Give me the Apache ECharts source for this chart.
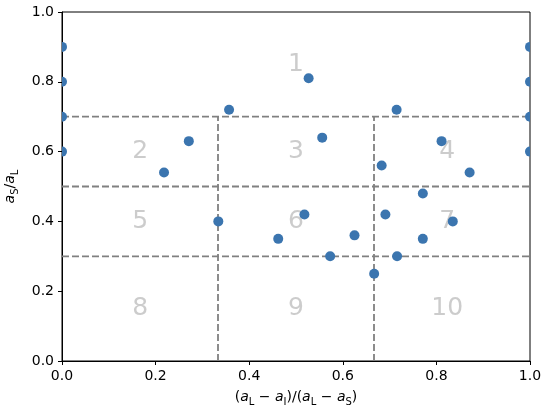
<!DOCTYPE html>
<html>
<head>
<meta charset="utf-8">
<script src="https://cdn.jsdelivr.net/npm/echarts@6/dist/echarts.min.js"></script>
<style>
  html, body { margin: 0; padding: 0; background: #fff; }
  #chart { width: 550px; height: 412px; }
</style>
</head>
<body>
<div id="chart"></div>
<script>
// scatter points (x = (aL - aI)/(aL - aS), y = aS/aL)
var pointsX = [0, 0, 0, 0, 1, 1, 1, 1,
  0.218, 0.271, 0.357, 0.527, 0.556, 0.715, 0.811, 0.683, 0.871, 0.771,
  0.334, 0.462, 0.518, 0.625, 0.573, 0.667, 0.691, 0.716, 0.771, 0.835];
var pointsY = [0.9, 0.8, 0.7, 0.6, 0.9, 0.8, 0.7, 0.6,
  0.54, 0.63, 0.72, 0.81, 0.64, 0.72, 0.63, 0.56, 0.54, 0.48,
  0.40, 0.35, 0.42, 0.36, 0.30, 0.25, 0.42, 0.30, 0.35, 0.40];

// region numbers
var regionNames = ['1', '2', '3', '4', '5', '6', '7', '8', '9', '10'];
var regionX = [0.5, 0.167, 0.5, 0.823, 0.167, 0.5, 0.823, 0.167, 0.5, 0.823];
var regionY = [0.85, 0.6, 0.6, 0.6, 0.4, 0.4, 0.4, 0.15, 0.15, 0.15];

// dashed dividers
var hLines = [0.7, 0.5, 0.3];
var vLines = [1 / 3, 2 / 3];
var vLineTop = 0.7;

var font = 'DejaVu Sans';
var chart = echarts.init(document.getElementById('chart'));

var series = [];

series.push({
  type: 'scatter',
  z: 1,
  silent: true,
  symbolSize: 1,
  itemStyle: { color: 'rgba(0,0,0,0)' },
  label: {
    show: true,
    position: 'inside',
    color: '#bfbfbf',
    fontFamily: font,
    fontSize: 25,
    formatter: function (p) { return regionNames[p.dataIndex]; }
  },
  data: regionX.map(function (x, i) { return [x, regionY[i]]; })
});

var dashStyle = { color: '#808080', width: 1.8, type: [7, 3] };
hLines.forEach(function (y) {
  series.push({
    type: 'line', z: 2, silent: true, symbol: 'none',
    lineStyle: dashStyle,
    data: [[0, y], [1, y]]
  });
});
vLines.forEach(function (x) {
  series.push({
    type: 'line', z: 2, silent: true, symbol: 'none',
    lineStyle: dashStyle,
    data: [[x, 0], [x, vLineTop]]
  });
});

// points; markers on the plot edge are cut in half like in the original
series.push({
  type: 'custom',
  z: 3,
  data: pointsX.map(function (x, i) { return [x, pointsY[i]]; }),
  renderItem: function (params, api) {
    var c = api.coord([api.value(0), api.value(1)]);
    var cs = params.coordSys;
    var r = 5;
    var start = 0, end = Math.PI * 2;
    if (c[0] <= cs.x + 0.5) { start = -Math.PI / 2; end = Math.PI / 2; }
    else if (c[0] >= cs.x + cs.width - 0.5) { start = Math.PI / 2; end = Math.PI * 1.5; }
    return {
      type: 'sector',
      shape: { cx: c[0], cy: c[1], r0: 0, r: r, startAngle: start, endAngle: end, clockwise: true },
      style: { fill: '#3b75af' }
    };
  }
});

var axisCommon = {
  type: 'value',
  min: 0,
  max: 1,
  interval: 0.2,
  splitLine: { show: false },
  axisLine: { show: true, lineStyle: { color: '#000', width: 1 } },
  axisTick: { show: true, length: 4, lineStyle: { color: '#000', width: 1 } },
  axisLabel: {
    color: '#000', fontFamily: font, fontSize: 14, margin: 8,
    formatter: function (v) { return v.toFixed(1); }
  },
  nameLocation: 'middle',
  nameTextStyle: {
    color: '#000', fontFamily: font, fontSize: 14,
    rich: {
      n: { fontFamily: font, fontSize: 14, lineHeight: 20, color: '#000' },
      i: { fontFamily: font, fontSize: 14, lineHeight: 20, fontStyle: 'italic', color: '#000' },
      s: { fontFamily: font, fontSize: 10, lineHeight: 20, verticalAlign: 'bottom', color: '#000' }
    }
  }
};

var option = {
  animation: false,
  backgroundColor: '#fff',
  grid: {
    left: 62, right: 20, top: 12, bottom: 51,
    outerBoundsMode: 'none',
    containLabel: false,
    show: true, borderColor: '#000', borderWidth: 1, backgroundColor: 'transparent'
  },
  xAxis: Object.assign({}, axisCommon, {
    name: '{n|(}{i|a}{s|L}{n| − }{i|a}{s|I}{n|)/(}{i|a}{s|L}{n| − }{i|a}{s|S}{n|)}',
    nameGap: 26
  }),
  yAxis: Object.assign({}, axisCommon, {
    name: '{i|a}{s|S}{n|/}{i|a}{s|L}',
    nameGap: 34
  }),
  series: series
};

chart.setOption(option);
</script>
</body>
</html>
